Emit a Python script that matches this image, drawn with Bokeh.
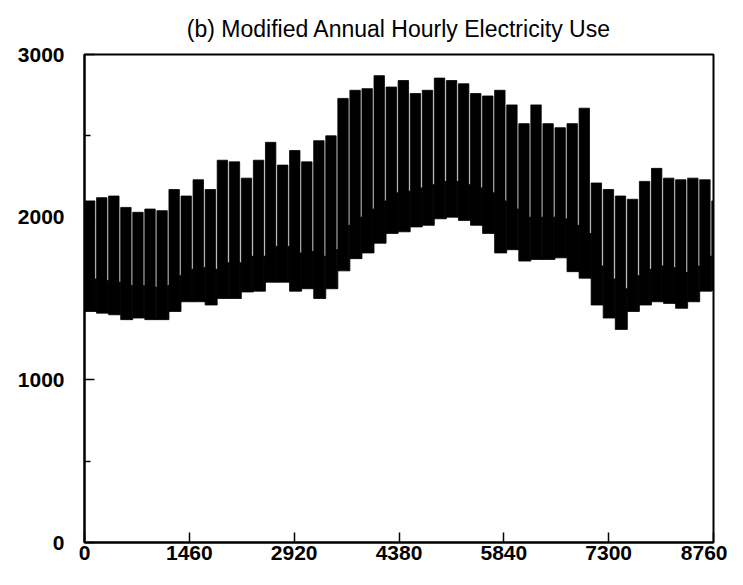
from bokeh.plotting import figure
from bokeh.models import FixedTicker, Range1d, ColumnDataSource
from bokeh.embed import file_html
from bokeh.resources import INLINE

# ---- data (per week of the year) ----
week = list(range(53))
weekday_peak = [2100, 2120, 2130, 2060, 2030, 2050, 2040, 2170, 2130, 2230,
                2170, 2350, 2340, 2240, 2350, 2460, 2320, 2410, 2340, 2470,
                2500, 2730, 2780, 2790, 2870, 2800, 2840, 2760, 2780, 2855,
                2840, 2820, 2760, 2745, 2780, 2690, 2575, 2690, 2575, 2550,
                2575, 2670, 2210, 2170, 2130, 2110, 2220, 2300, 2240, 2230,
                2240, 2230, 2100]
weekday_low = [1420, 1410, 1400, 1370, 1380, 1370, 1370, 1420, 1480, 1480,
               1460, 1500, 1500, 1540, 1545, 1600, 1600, 1545, 1560, 1500,
               1560, 1670, 1745, 1780, 1840, 1900, 1910, 1940, 1950, 1990,
               2000, 1980, 1950, 1900, 1780, 1800, 1730, 1740, 1740, 1750,
               1665, 1625, 1460, 1380, 1310, 1420, 1460, 1480, 1470, 1440,
               1480, 1545, 1550]
weekend_top = [1620, 1610, 1600, 1580, 1580, 1570, 1580,
               1640, 1680, 1690, 1680, 1720, 1720,
               1760, 1760, 1820, 1820, 1780, 1790, 1760, 1800,
               1950, 2000, 2050, 2100,
               2150, 2160, 2180, 2200, 2220, 2220, 2200, 2180, 2150, 2100,
               2050, 2000, 2000, 2000, 1990, 1950, 1900,
               1700, 1620, 1560, 1640, 1680, 1700, 1690, 1660, 1700, 1760, 1760]
x_ticks = [0, 1460, 2920, 4380, 5840, 7300, 8760]
y_ticks = [0, 1000, 2000, 3000]
y_minor = [500, 1500, 2500]

HOURS_PER_WEEK = 168
WEEKDAY_HOURS = 145

src = ColumnDataSource(dict(
    wd_left=[w * HOURS_PER_WEEK for w in week],
    wd_right=[min(w * HOURS_PER_WEEK + WEEKDAY_HOURS, 8760) for w in week],
    we_left=[min(w * HOURS_PER_WEEK + WEEKDAY_HOURS, 8760) for w in week],
    we_right=[min((w + 1) * HOURS_PER_WEEK, 8760) for w in week],
    peak=weekday_peak, low=weekday_low, wtop=weekend_top,
))

p = figure(width=727, height=569, output_backend="svg", toolbar_location=None,
           x_range=Range1d(0, 8760), y_range=Range1d(0, 3000),
           min_border_left=84, min_border_right=14, min_border_top=53,
           min_border_bottom=27)

p.title.text = "(b) Modified Annual Hourly Electricity Use"
p.title.align = "center"
p.title.text_font = "Liberation Sans"
p.title.text_font_size = "23px"
p.title.text_font_style = "normal"
p.title.text_color = "black"
p.title.standoff = 26

p.quad(left="wd_left", right="wd_right", bottom="low", top="peak", source=src,
       fill_color="black", line_color="black", line_width=0.8)
p.quad(left="we_left", right="we_right", bottom="low", top="wtop", source=src,
       fill_color="black", line_color="black", line_width=0.8)

p.xgrid.visible = False
p.ygrid.visible = False
p.outline_line_color = "black"
p.outline_line_width = 2
p.background_fill_color = "white"
p.border_fill_color = "white"

p.xaxis.ticker = FixedTicker(ticks=x_ticks)
p.yaxis.ticker = FixedTicker(ticks=y_ticks, minor_ticks=y_minor)
for ax in (p.xaxis[0], p.yaxis[0]):
    ax.axis_line_color = "black"
    ax.axis_line_width = 2
    ax.major_tick_in = 10
    ax.major_tick_out = 0
    ax.major_tick_line_width = 1.5
    ax.major_tick_line_color = "black"
    ax.major_label_text_font = "Liberation Sans"
    ax.major_label_text_font_size = "21px"
    ax.major_label_text_font_style = "bold"
    ax.major_label_text_color = "black"
p.xaxis.minor_tick_line_color = None
p.yaxis.minor_tick_in = 6
p.yaxis.minor_tick_out = 0
p.yaxis.minor_tick_line_width = 1.5
p.yaxis.minor_tick_line_color = "black"
p.xaxis.major_label_standoff = 3
p.yaxis.major_label_standoff = 20

open("out.html", "w").write(file_html(p, INLINE))
